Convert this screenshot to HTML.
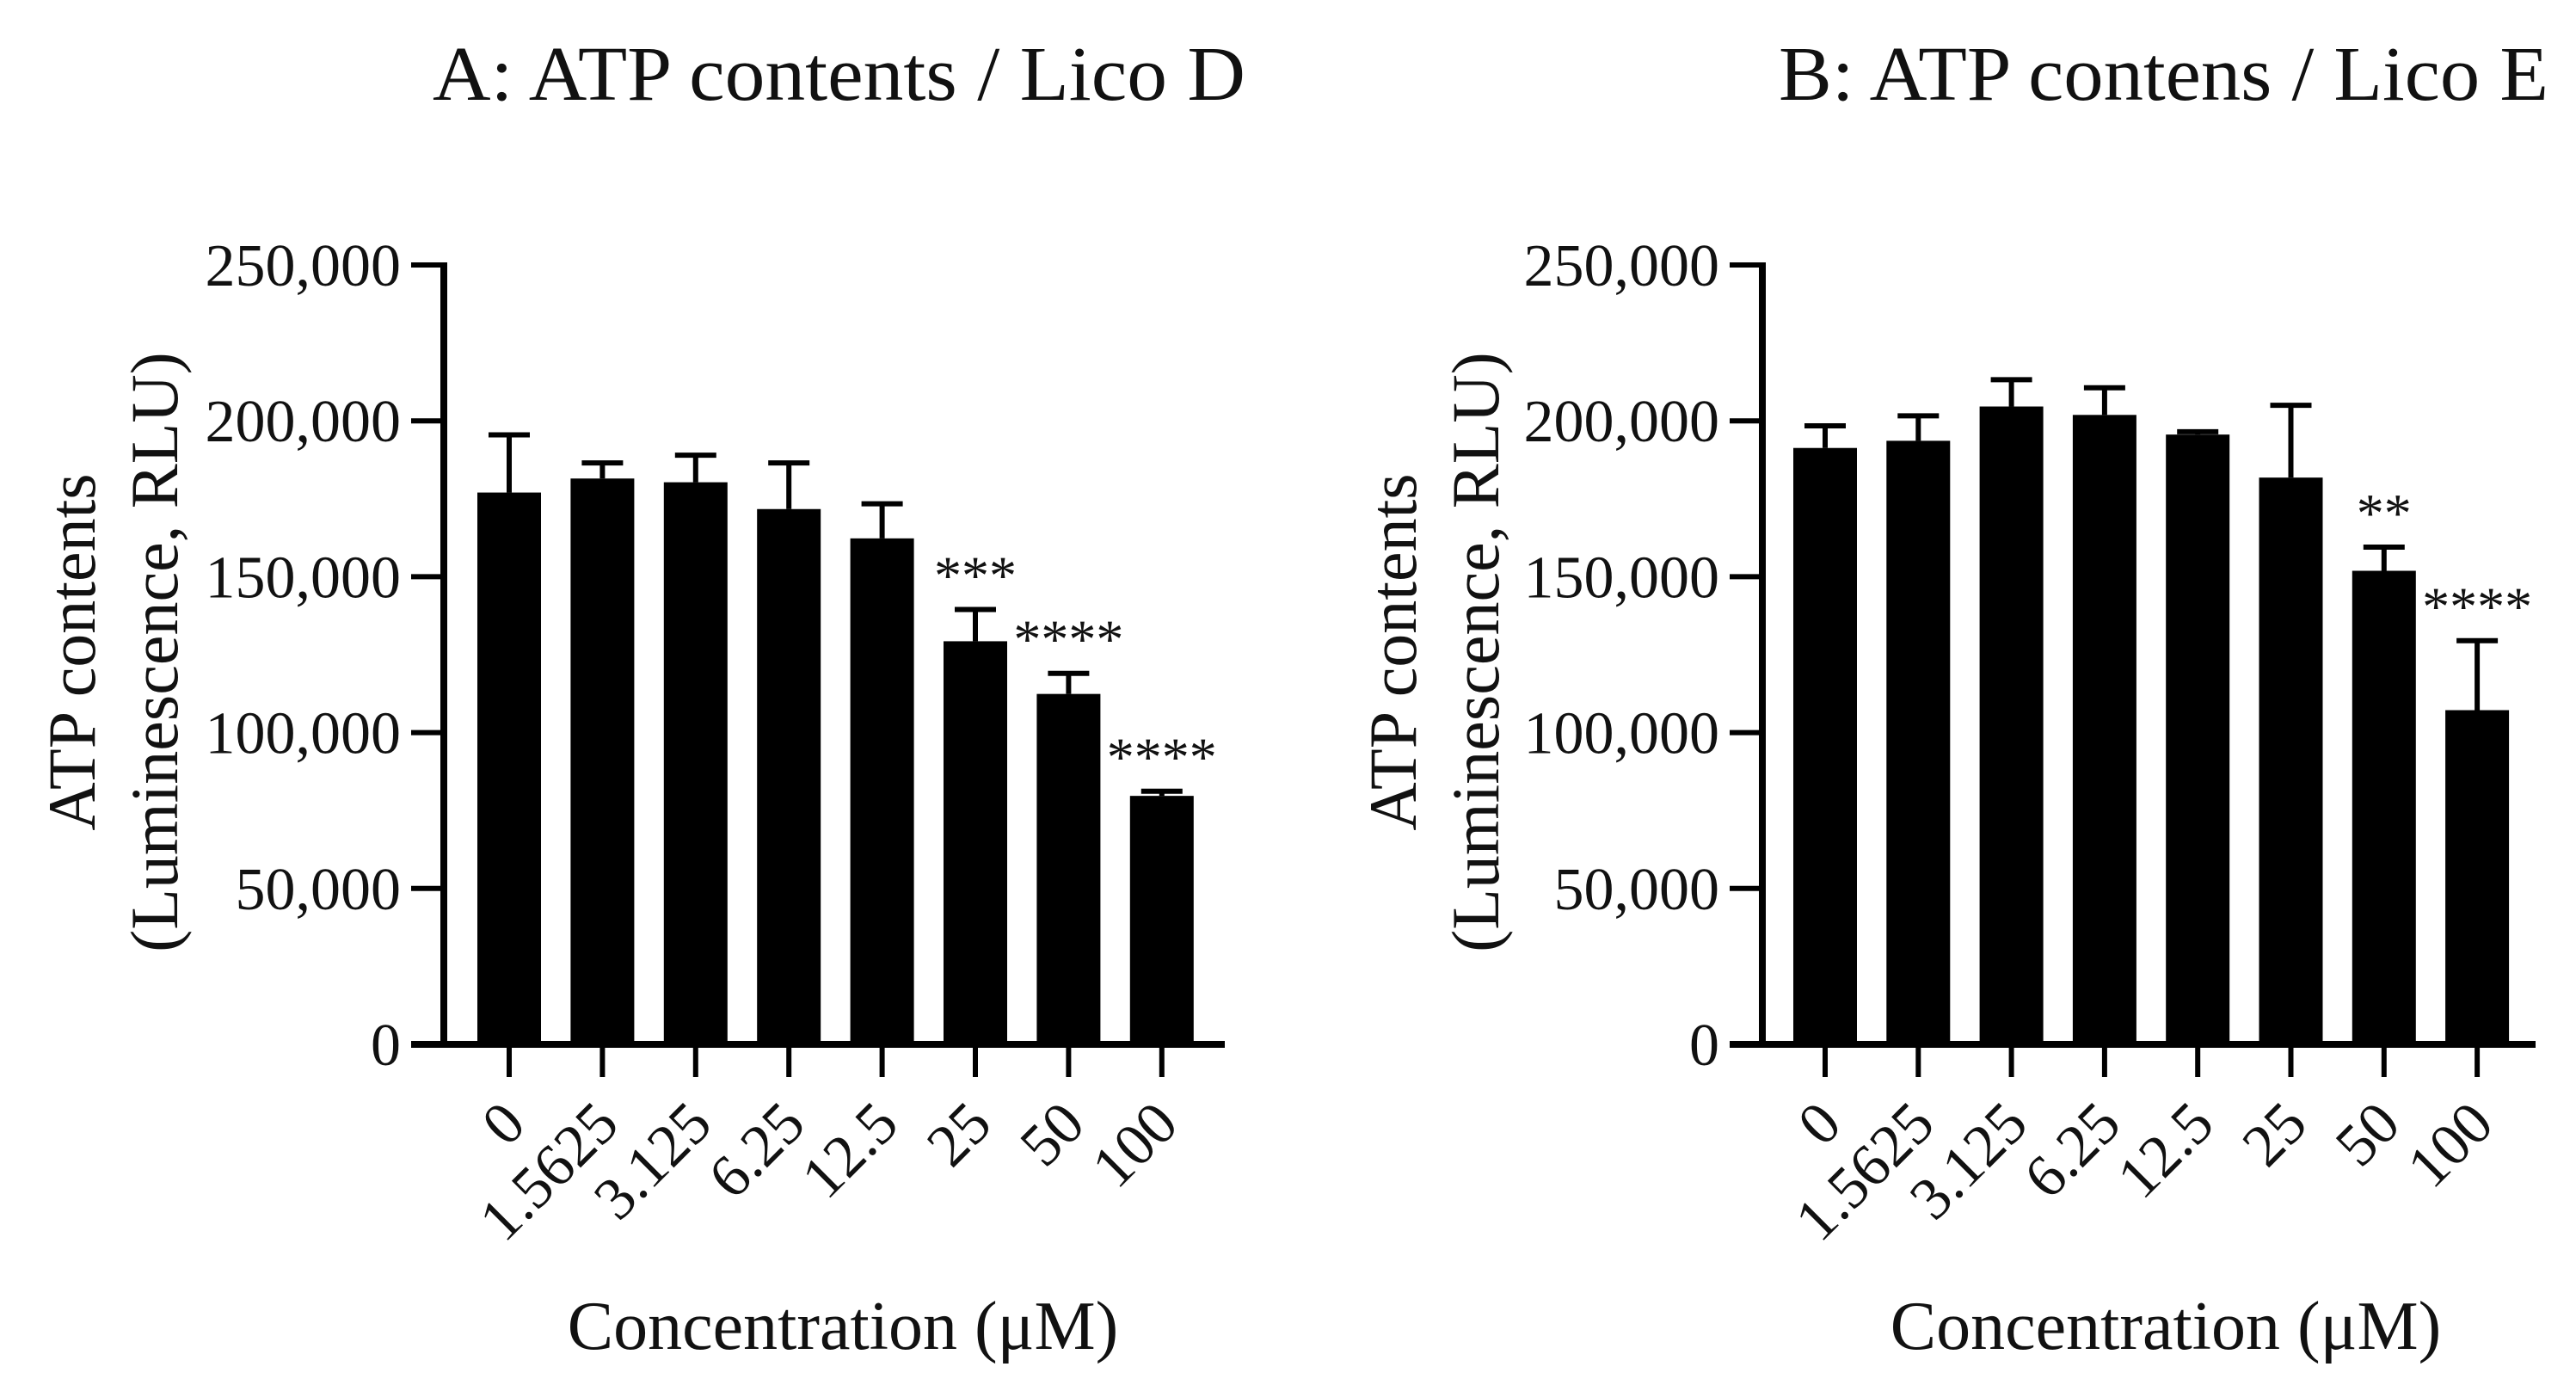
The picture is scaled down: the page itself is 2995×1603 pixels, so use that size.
<!DOCTYPE html>
<html><head><meta charset="utf-8"><style>
html,body{margin:0;padding:0;background:#fff}
svg{display:block}
text{font-family:"Liberation Serif",serif;fill:#111}
</style></head><body>
<svg id="chart" width="2995" height="1603" viewBox="0 0 2995 1603" xmlns="http://www.w3.org/2000/svg"></svg>
<script>
const categories = ["0","1.5625","3.125","6.25","12.5","25","50","100"];
const yTicks = [0,50000,100000,150000,200000,250000];
const yTickLabels = ["0","50,000","100,000","150,000","200,000","250,000"];
const meansA = [177000,181500,180300,171700,162300,129300,112400,79700];
const errA   = [18500,5000,8700,14800,11100,10200,6600,1500];
const starsA = ["","","","","","***","****","****"];
const meansB = [191300,193600,204600,201900,195600,181800,151900,107200];
const errB   = [7100,8000,8600,8700,900,23200,7600,22300];
const starsB = ["","","","","","","**","****"];

const svg = document.getElementById('chart');
const NS = 'http://www.w3.org/2000/svg';
function mk(tag, attrs, parent){const e=document.createElementNS(NS,tag);for(const k in attrs)e.setAttribute(k,attrs[k]);(parent||svg).appendChild(e);return e;}

function panel(cfg){
  const g = mk('g',{});
  
  
  const y0=1214, yTop=308, yMax=250000;
  const yS = v => y0 - v/yMax*(y0-yTop);
  const xS = i => cfg.x0 + i*cfg.step;
  const t = mk('text',{x:cfg.titleX,y:116,'font-size':90,textLength:cfg.titleW,lengthAdjust:'spacingAndGlyphs'},g);
  t.textContent = cfg.title;
  
  
  const yt = mk('text',{transform:`translate(${cfg.yTitleX},758) rotate(-90)`,'text-anchor':'middle','font-size':78},g);
  
  
  const l1 = mk('tspan',{x:0,y:0},yt); l1.textContent='ATP contents';
  const l2 = mk('tspan',{x:0,y:96},yt); l2.textContent='(Luminescence, RLU)';
  cfg.means.forEach((v,i)=>{
    const cx = xS(i), top = yS(v), et = yS(v+cfg.err[i]);
    const eb = mk('line',{x1:cx,x2:cx,y1:top,y2:et,stroke:'#000','stroke-width':6},g);
    
    
    const cap = mk('line',{x1:cx-24,x2:cx+24,y1:et,y2:et,stroke:'#000','stroke-width':6},g);
    
    
    const b = mk('rect',{x:cx-37,y:top,width:74,height:y0-top,fill:'#000'},g);
    
    
    if(cfg.stars[i]){
      const s = mk('text',{x:cx,y:et-18,'text-anchor':'middle','font-size':64},g);
      s.textContent = cfg.stars[i];
      
      
    }
    const tk = mk('line',{x1:cx,x2:cx,y1:y0,y2:y0+38,stroke:'#000','stroke-width':6},g);
    
    
    const lb = mk('text',{transform:`translate(${cx+22},1310) rotate(-45)`,'text-anchor':'end','font-size':70},g);
    lb.textContent = categories[i];
    
    
  });
  const ya = mk('line',{x1:cfg.ax,x2:cfg.ax,y1:yTop-3,y2:y0+4,stroke:'#000','stroke-width':8},g);
  
  
  const xa = mk('line',{x1:cfg.ax-38,x2:cfg.xEnd,y1:y0,y2:y0,stroke:'#000','stroke-width':8},g);
  
  
  yTicks.forEach((v,i)=>{
    const y=yS(v);
    if(i>0){
      const tk = mk('line',{x1:cfg.ax-38,x2:cfg.ax,y1:y,y2:y,stroke:'#000','stroke-width':6},g);
      
      
    }
    const lb = mk('text',{x:cfg.ax-50,y:y+24,'text-anchor':'end','font-size':70},g);
    lb.textContent = yTickLabels[i];
    
    
  });
  const xt = mk('text',{x:cfg.xTitleX,y:1568,'text-anchor':'middle','font-size':80},g);
  xt.textContent = 'Concentration (\u03BCM)';
  
  
}

panel({id:'panel-a',title:'A: ATP contents / Lico D',titleX:503,titleW:945,yTitleX:110,
  x0:592,step:108.4,ax:516,xEnd:1424,means:meansA,err:errA,stars:starsA,xTitleX:980});
panel({id:'panel-b',title:'B: ATP contens / Lico E',titleX:2068,titleW:895,yTitleX:1646,
  x0:2122,step:108.3,ax:2049,xEnd:2948,means:meansB,err:errB,stars:starsB,xTitleX:2518});
</script>
</body></html>
